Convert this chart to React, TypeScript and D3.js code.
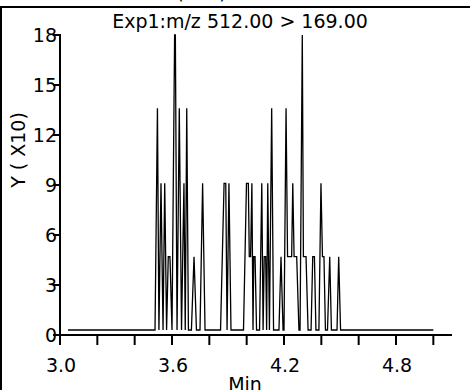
import React from 'react';
import * as d3 from 'd3';

const title = 'Exp1:m/z 512.00 > 169.00';
const yAxisTitle = 'Y ( X10)';
const xAxisTitle = 'Min';
const xTickValues = [3.0, 3.2, 3.4, 3.6, 3.8, 4.0, 4.2, 4.4, 4.6, 4.8, 5.0];
const xLabelValues = [3.0, 3.6, 4.2, 4.8];
const yTickValues = [0, 3, 6, 9, 12, 15, 18];

const times = [
  3.043, 3.509, 3.522, 3.530, 3.541, 3.552, 3.561, 3.571, 3.580, 3.589,
  3.600, 3.614, 3.618, 3.627, 3.639, 3.651, 3.664, 3.671, 3.679, 3.688,
  3.704, 3.718, 3.731, 3.750, 3.764, 3.777, 3.860, 3.879, 3.888, 3.895,
  3.905, 3.916, 3.983, 3.999, 4.009, 4.014, 4.021, 4.028, 4.034, 4.038,
  4.045, 4.053, 4.069, 4.081, 4.088, 4.094, 4.102, 4.107, 4.113, 4.122,
  4.134, 4.144, 4.173, 4.184, 4.195, 4.200, 4.211, 4.219, 4.241, 4.247,
  4.254, 4.268, 4.280, 4.286, 4.298, 4.304, 4.318, 4.329, 4.345, 4.354,
  4.363, 4.371, 4.387, 4.398, 4.406, 4.414, 4.422, 4.433, 4.445, 4.454,
  4.484, 4.493, 4.503, 5.000,
];
const intensities = [
  0.3, 0.3, 13.6, 0.3, 9.1, 0.3, 9.1, 0.3, 4.7, 4.7,
  0.3, 18.0, 18.0, 0.3, 13.6, 0.3, 9.1, 0.3, 13.6, 0.3,
  0.3, 4.7, 0.3, 0.3, 9.1, 0.3, 0.3, 9.1, 9.1, 0.3,
  9.1, 0.3, 0.3, 9.1, 9.1, 4.7, 4.7, 9.1, 0.3, 4.7,
  4.7, 0.3, 0.3, 9.1, 0.3, 4.7, 4.7, 0.3, 9.1, 0.3,
  13.6, 0.3, 0.3, 4.7, 0.3, 0.3, 13.6, 4.7, 4.7, 9.1,
  4.7, 4.7, 0.3, 0.3, 18.0, 4.7, 4.7, 0.3, 0.3, 4.7,
  4.7, 0.3, 0.3, 9.1, 4.7, 4.7, 0.3, 0.3, 4.7, 0.3,
  0.3, 4.7, 0.3, 0.3,
];

const FONT = 'DejaVu Sans, sans-serif';

export default function App() {
  const x = d3.scaleLinear().domain([3.0, 5.1]).range([60, 452]);
  const y = d3.scaleLinear().domain([0, 18]).range([335, 35]);
  const pts = times.map((t, i) => [t, intensities[i]] as [number, number]);
  const line = d3
    .line<[number, number]>()
    .x((d) => x(d[0]))
    .y((d) => y(d[1]));

  return (
    <svg
      width={470}
      height={390}
      style={{ position: 'absolute', left: 0, top: 0, background: '#fff' }}
      fontFamily={FONT}
    >
      <rect x={0} y={0} width={470} height={390} fill="#fff" />
      {/* clipped upper caption parentheses */}
      <text x={180} y={-1} fontSize={19} textAnchor="middle" fill="#000">(</text>
      <text x={223} y={-1} fontSize={19} textAnchor="middle" fill="#000">)</text>
      {/* frame */}
      <rect x={1} y={7} width={600} height={600} fill="none" stroke="#000" strokeWidth={2} />
      {/* title */}
      <text x={240} y={27.5} fontSize={19} textAnchor="middle" fill="#000">{title}</text>
      {/* data */}
      <path d={line(pts) || ''} fill="none" stroke="#000" strokeWidth={1.3} strokeLinejoin="miter" />
      {/* y axis */}
      <line x1={60} x2={60} y1={y(18) - 1} y2={y(0) + 1} stroke="#000" strokeWidth={2} />
      {yTickValues.map((v) => (
        <g key={'y' + v}>
          <line x1={53} x2={60} y1={y(v)} y2={y(v)} stroke="#000" strokeWidth={2} />
          <text x={57} y={y(v) + 7} fontSize={19} textAnchor="end" fill="#000">{v}</text>
        </g>
      ))}
      {/* x axis */}
      <line x1={59} x2={x(5.1)} y1={y(0)} y2={y(0)} stroke="#000" strokeWidth={2} />
      {xTickValues.map((v) => (
        <line key={'xt' + v} x1={x(v)} x2={x(v)} y1={y(0)} y2={y(0) + 10} stroke="#000" strokeWidth={2} />
      ))}
      {xLabelValues.map((v) => (
        <text key={'xl' + v} x={x(v) + 1} y={372} fontSize={19} textAnchor="middle" fill="#000">
          {v.toFixed(1)}
        </text>
      ))}
      <text x={245} y={391} fontSize={19} textAnchor="middle" fill="#000">{xAxisTitle}</text>
      <text
        transform="translate(25,150) rotate(-90)"
        fontSize={19}
        textAnchor="middle"
        fill="#000"
      >
        {yAxisTitle}
      </text>
    </svg>
  );
}
